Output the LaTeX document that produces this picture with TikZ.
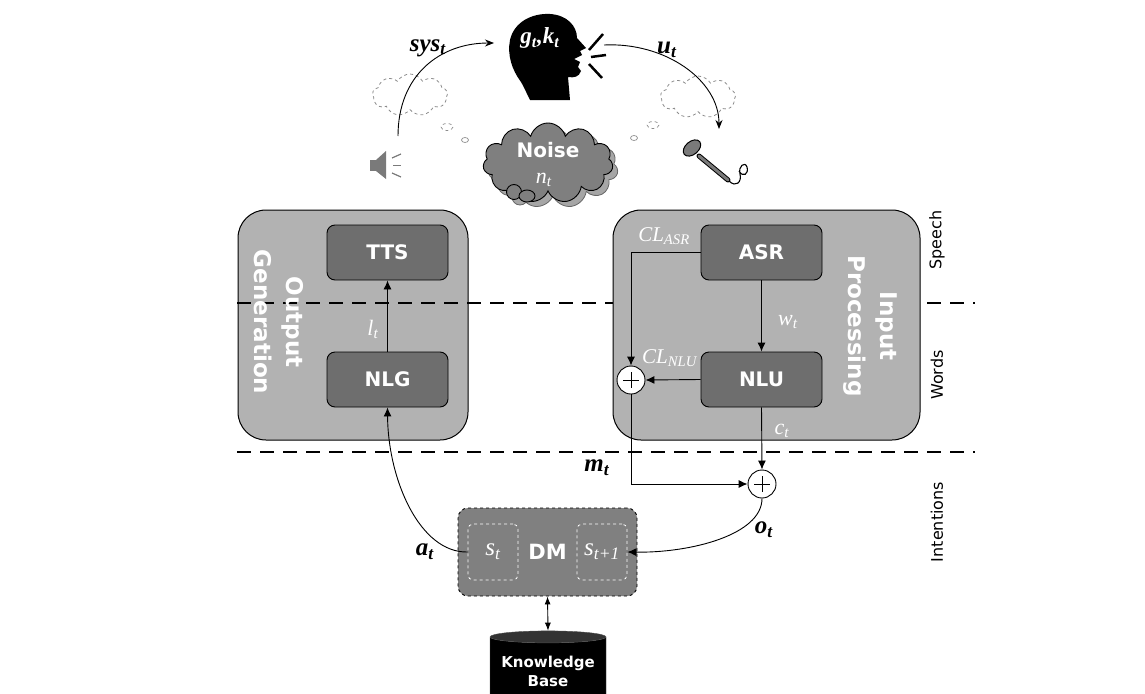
\documentclass[tikz,border=0pt]{standalone}
\usepackage{fontspec}
\setmainfont{Liberation Serif}
\newfontfamily\dvs{DejaVu Sans}
\usetikzlibrary{arrows.meta,shapes.geometric,shapes.symbols}
\definecolor{bigfill}{HTML}{B2B2B2}
\definecolor{innerfill}{HTML}{6E6E6E}
\definecolor{dmfill}{HTML}{808080}
\definecolor{noisefill}{HTML}{7F7F7F}
\definecolor{shadowfill}{HTML}{A6A6A6}
\definecolor{spkgray}{HTML}{7A7A7A}
\definecolor{cloudgray}{HTML}{8C8C8C}
\newcommand\lbl[2]{\textit{#1}\textsubscript{\textit{#2}}}
\begin{document}
\begin{tikzpicture}[x=1pt,y=-1pt,
  bigbox/.style={draw=black, fill=bigfill, rounded corners=28pt, line width=1pt},
  inbox/.style={draw=black, fill=innerfill, rounded corners=8pt, line width=0.9pt,
    minimum width=121pt, minimum height=55pt, text=white,
    font=\dvs\bfseries\fontsize{20}{24}\selectfont},
  vtext/.style={rotate=-90, align=center, text=white,
    font=\dvs\bfseries\fontsize{23}{32}\selectfont},
  sidelbl/.style={rotate=90, font=\dvs\fontsize{16}{19}\selectfont},
  wlbl/.style={text=white, font=\fontsize{22}{26}\selectfont},
  blbl/.style={text=black, font=\bfseries\fontsize{25}{28}\selectfont},
  sumnode/.style={circle, draw=black, fill=white, line width=0.9pt, minimum size=28pt, inner sep=0pt},
  arr/.style={line width=0.9pt, -{Latex[length=9pt,width=8pt]}},
  carr/.style={line width=0.9pt, -{Stealth[length=9pt,width=7pt]}},
  sep/.style={line width=2.6pt, dash pattern=on 14pt off 9pt},
  sbox/.style={draw=white, dashed, rounded corners=5pt, line width=0.8pt,
    minimum width=50pt, minimum height=56pt, text=white, font=\fontsize{25}{28}\selectfont},
  tcloud/.style={cloud, cloud puffs=9, cloud puff arc=120, aspect=1.8, draw=cloudgray, dashed,
    line width=0.8pt, minimum width=75pt, minimum height=42pt},
]
\useasboundingbox (0,0) rectangle (1145,693);

% side labels
\node[sidelbl] (speech) at (937,240) {Speech};
\node[sidelbl] (words) at (937,375) {Words};
\node[sidelbl] (intent) at (937,522) {Intentions};

% big boxes and separators
\node[bigbox, minimum width=230pt, minimum height=230pt] (og) at (353,325) {};
\draw[sep] (237,303) -- (975,303);
\draw[sep] (237,452) -- (975,452);
\node[bigbox, minimum width=307pt, minimum height=230pt] (ip) at (766.5,325) {};
\node[vtext] (ogt) at (279,322) {Output\\Generation};
\node[vtext] (ipt) at (870,326) {Input\\Processing};

% inner boxes
\node[inbox] (TTS) at (387.5,252.5) {TTS};
\node[inbox] (NLG) at (387.5,379.5) {NLG};
\node[inbox] (ASR) at (761.5,252.5) {ASR};
\node[inbox] (NLU) at (761.5,379.5) {NLU};

% sum nodes
\node[sumnode] (s1) at (631,380) {};
\node[sumnode] (s2) at (762,484) {};
\draw[line width=0.8pt] (s1.center) +(-8,0) -- +(8,0) (s1.center) +(0,-8) -- +(0,8);
\draw[line width=0.8pt] (s2.center) +(-8,0) -- +(8,0) (s2.center) +(0,-8) -- +(0,8);

% DM
\node[draw=black, dashed, fill=dmfill, rounded corners=10pt, line width=0.9pt,
  minimum width=179pt, minimum height=88pt, text=white,
  font=\dvs\bfseries\fontsize{21}{24}\selectfont] (DM) at (547.5,552) {DM};
\node[sbox] (st) at (493,552) {\lbl{s}{t}};
\node[sbox] (st1) at (602,552) {\lbl{s}{t+1}};

% knowledge base
\node[cylinder, shape border rotate=90, aspect=0.12, minimum width=116pt, minimum height=72pt,
  draw=black!70, cylinder uses custom fill, cylinder body fill=black, cylinder end fill=black!80,
  text=white, align=center, font=\dvs\bfseries\fontsize{15}{19}\selectfont] (KB) at (548,671) {Knowledge\\Base};

% connectors in boxes
\draw[arr] (NLG) -- (TTS);
\draw[arr] (ASR) -- (NLU);
\draw[arr] (ASR.west) -| (s1.north);
\draw[arr] (NLU.west) -- (s1.east);
\draw[arr] (NLU.south) -- (s2.north);
\draw[arr] (s1.south) |- (s2.west);
\draw[arr] (s2.south) .. controls (762,535) and (690,553) .. (st1.east);
\draw[arr] (st.west) .. controls (420,553) and (388,480) .. (NLG.south);
\draw[line width=0.9pt, {Latex[length=8pt,width=6pt]}-{Latex[length=8pt,width=6pt]}] (DM.south) -- (KB.north);

% white labels
\node[wlbl] (lt) at (373,329) {\lbl{l}{t}};
\node[wlbl] (wt) at (788,322) {\lbl{w}{t}};
\node[wlbl] (ct) at (782,431) {\lbl{c}{t}};
\node[wlbl, font=\fontsize{21}{24}\selectfont] (clasr) at (664,236) {\lbl{CL}{ASR}};
\node[wlbl, font=\fontsize{21}{24}\selectfont] (clnlu) at (670,358) {\lbl{CL}{NLU}};

% black labels
\node[blbl] (mt) at (597,468) {\lbl{m}{t}};
\node[blbl] (ot) at (764,530) {\lbl{o}{t}};
\node[blbl] (at) at (425,552) {\lbl{a}{t}};
\node[blbl] (syst) at (428,48) {\lbl{sys}{t}};
\node[blbl] (ut) at (667,50) {\lbl{u}{t}};

% thought clouds
\node[tcloud] (lc) at (410,95) {};
\node[tcloud] (rc) at (698,97) {};
\draw[cloudgray, dashed, line width=0.7pt] (447,127) ellipse (6 and 3.5);
\draw[cloudgray, line width=0.7pt] (465,140) ellipse (3.5 and 2.5);
\draw[cloudgray, dashed, line width=0.7pt] (653,125) ellipse (6 and 3.5);
\draw[cloudgray, line width=0.7pt] (634,138) ellipse (3.5 and 2.5);

% noise cloud
\node[cloud, cloud puffs=11, aspect=1.7, fill=shadowfill, draw=black!60, line width=0.8pt,
  minimum width=130pt, minimum height=80pt] (ncs) at (553,168) {};
\draw[fill=shadowfill, draw=black!60, line width=0.8pt] (520,197) circle (8);
\node[cloud, cloud puffs=11, aspect=1.7, fill=noisefill, draw=black, line width=0.9pt,
  minimum width=130pt, minimum height=80pt] (noise) at (548,163) {};
\draw[fill=noisefill, draw=black, line width=0.9pt] (514,192) circle (7.5);
\draw[fill=noisefill, draw=black, line width=0.9pt] (527,196) ellipse (8 and 6);
\node[text=white, font=\dvs\bfseries\fontsize{20}{24}\selectfont] (noiset) at (548,150) {Noise};
\node[wlbl] (nt) at (544,180) {\lbl{n}{t}};

% head
\fill[black] (530,100) .. controls (526,92) and (524,87) .. (521,82)
  .. controls (512,70) and (507,55) .. (510,40)
  .. controls (514,22) and (532,13) .. (550,14)
  .. controls (567,15) and (577,26) .. (577,38) -- (586,48) -- (580,51) -- (582,55)
  -- (574,59) -- (580,62) -- (578,67) -- (581,71)
  .. controls (579,77) and (574,78) .. (568,77) -- (570,100) -- cycle;
\node[text=white, font=\bfseries\fontsize{23}{26}\selectfont] (gk) at (540,38)
  {\textit{g}\textsubscript{\textit{t}}\textit{,k}\textsubscript{\textit{t}}};
\draw[line width=2.5pt] (589,50) -- (603,34);
\draw[line width=2.5pt] (591,57) -- (606,55);
\draw[line width=2.5pt] (589,64) -- (602,78);
\coordinate (headL) at (494,43);
\coordinate (headR) at (604,45);

% speaker
\fill[spkgray] (370,160) rectangle (377,171);
\fill[spkgray] (376,160) -- (386,151) -- (386,179) -- (376,171) -- cycle;
\draw[spkgray, line width=1.2pt] (392,158) -- (401,154);
\draw[spkgray, line width=1.2pt] (393,165.5) -- (401,165.5);
\draw[spkgray, line width=1.2pt] (392,173) -- (401,177);
\coordinate (spk) at (398,136);

% microphone
\draw[line width=5pt, black, line cap=round] (699,156) -- (728,180);
\draw[line width=3pt, spkgray, line cap=round] (699,156) -- (728,180);
\filldraw[fill=spkgray, draw=black, line width=1pt, rotate around={40:(692,148)}] (692,148) ellipse (10 and 6.5);
\draw[line width=1.1pt] (729,181) .. controls (736,188) and (742,182) .. (740,174)
  .. controls (738,166) and (745,161) .. (747,167) .. controls (749,174) and (743,178) .. (739,171);
\coordinate (mic) at (719,129);

% top arcs
\draw[carr] (spk) .. controls (398,75) and (440,43) .. (headL);
\draw[carr] (headR) .. controls (665,42) and (719,80) .. (mic);
\end{tikzpicture}
\end{document}
